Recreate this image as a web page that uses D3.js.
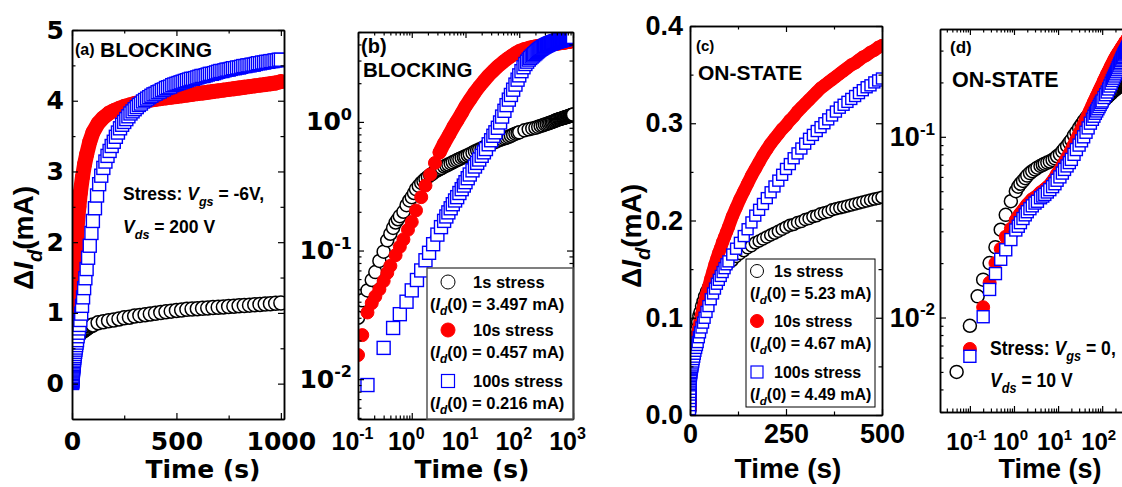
<!DOCTYPE html>
<html>
<head>
<meta charset="utf-8">
<script src="https://cdn.jsdelivr.net/npm/d3@7"></script>
<style>
  body { margin: 0; background: #fff; }
  svg { display: block; font-weight: bold; }
</style>
</head>
<body>
<svg id="fig"></svg>
<script>
// blocking stress: panels (a) linear and (b) log plot the same curves
var timeBlackAB = [0.1, 0.12, 0.15, 0.18, 0.21, 0.25, 0.3, 0.35, 0.4, 0.45,
  0.5, 0.55, 0.6, 0.7, 0.8, 0.9, 1.0, 1.1, 1.2, 1.35,
  1.5, 1.65, 1.8, 2.0, 2.2, 2.4, 2.7, 3.0, 3.3, 3.6,
  4.0, 4.4, 4.8, 5.3, 5.8, 6.4, 7, 7.7, 8.5, 9.3,
  10, 11, 12, 13.5, 15, 16.5, 18, 20, 22, 24,
  27, 30, 33, 36, 40, 44, 48, 53, 58, 64,
  70, 77, 85, 93, 100,
  125, 150, 175, 200, 225, 250, 275, 300, 325, 350, 375, 400, 425, 450, 475, 500,
  525, 550, 575, 600, 625, 650, 675, 700, 725, 750, 775, 800, 825, 850, 875, 900, 925, 950, 975, 1000];
var black1sAB = [0.030, 0.041, 0.049, 0.059, 0.068, 0.083, 0.098, 0.12, 0.135, 0.150,
  0.165, 0.175, 0.185, 0.20, 0.225, 0.245, 0.26, 0.28, 0.30, 0.318,
  0.335, 0.348, 0.36, 0.373, 0.385, 0.395, 0.41, 0.42, 0.43, 0.438,
  0.45, 0.458, 0.466, 0.475, 0.485, 0.495, 0.505, 0.514, 0.525, 0.533,
  0.54, 0.55, 0.56, 0.575, 0.59, 0.60, 0.61, 0.622, 0.635, 0.645,
  0.66, 0.675, 0.69, 0.70, 0.715, 0.725, 0.735, 0.745, 0.755, 0.765,
  0.78, 0.795, 0.81, 0.82, 0.83,
  0.86, 0.875, 0.89, 0.90, 0.915, 0.93, 0.94, 0.955, 0.965, 0.975, 0.985, 0.995, 1.005, 1.015, 1.025, 1.035,
  1.04, 1.05, 1.055, 1.06, 1.065, 1.07, 1.075, 1.08, 1.085, 1.09, 1.095, 1.10, 1.105, 1.11, 1.115, 1.12, 1.125, 1.13, 1.135, 1.14];

var timeRedAB = [0.1, 0.12, 0.15, 0.18, 0.21, 0.25, 0.3, 0.35, 0.4, 0.5,
  0.6, 0.7, 0.85, 1, 1.2, 1.5, 1.8, 2.2, 2.7, 3.3,
  4, 5, 6, 7, 8.5, 10, 12, 15, 18, 22,
  27, 33, 40, 50, 60, 70, 85, 100,
  125, 150, 175, 200, 225, 250, 275, 300, 325, 350, 375, 400, 425, 450, 475, 500,
  525, 550, 575, 600, 625, 650, 675, 700, 725, 750, 775, 800, 825, 850, 875, 900, 925, 950, 975, 1000];
var red10sAB = [0.0154, 0.022, 0.033, 0.039, 0.044, 0.050, 0.058, 0.067, 0.076, 0.092,
  0.107, 0.122, 0.145, 0.167, 0.205, 0.26, 0.32, 0.39, 0.48, 0.58,
  0.68, 0.80, 0.92, 1.02, 1.17, 1.32, 1.48, 1.70, 1.88, 2.08,
  2.30, 2.50, 2.70, 2.92, 3.10, 3.24, 3.42, 3.55,
  3.68, 3.76, 3.82, 3.86, 3.89, 3.92, 3.94, 3.96, 3.98, 3.99, 4.01, 4.02, 4.03, 4.04, 4.05, 4.06,
  4.07, 4.08, 4.09, 4.10, 4.11, 4.12, 4.13, 4.14, 4.15, 4.16, 4.17, 4.18, 4.19, 4.20, 4.21, 4.22, 4.23, 4.24, 4.25, 4.27];

var timeBlueAB = [0.15, 0.3, 0.45, 0.6, 0.8, 1.0, 1.25, 1.5, 1.8, 2.1,
  2.5, 3.0, 3.5, 4.0, 4.4, 4.8, 5.3, 5.8, 6.4, 7,
  7.7, 8.5, 9.3, 10, 11, 12, 13.5, 15, 16.5, 18,
  20, 22, 24, 27, 30, 33, 36, 40, 44, 48,
  53, 58, 64, 70, 77, 85, 93, 100,
  110, 120, 130, 140, 150, 160, 170, 180, 190, 200,
  210, 220, 230, 240, 250, 260, 270, 280, 290, 300,
  310, 320, 330, 340, 350, 360, 370, 380, 390, 400,
  410, 420, 430, 440, 450, 460, 470, 480, 490, 500,
  510, 520, 530, 540, 550, 560, 570, 580, 590, 600,
  610, 620, 630, 640, 650, 660, 670, 680, 690, 700,
  710, 720, 730, 740, 750, 760, 770, 780, 790, 800,
  810, 820, 830, 840, 850, 860, 870, 880, 890, 900,
  910, 920, 930, 940, 950, 960, 970, 980, 990, 1000];
var blue100sAB = [0.009, 0.0175, 0.025, 0.032, 0.040, 0.049, 0.059, 0.070, 0.084, 0.096,
  0.112, 0.133, 0.152, 0.170, 0.184, 0.198, 0.213, 0.229, 0.245, 0.26,
  0.28, 0.30, 0.32, 0.34, 0.365, 0.39, 0.42, 0.45, 0.48, 0.51,
  0.545, 0.58, 0.615, 0.67, 0.72, 0.78, 0.83, 0.90, 0.99, 1.10,
  1.22, 1.35, 1.49, 1.62, 1.78, 1.95, 2.13, 2.30,
  2.48, 2.66, 2.82, 2.94, 3.05, 3.14, 3.22, 3.29, 3.36, 3.42,
  3.49, 3.55, 3.61, 3.66, 3.70, 3.74, 3.78, 3.82, 3.85, 3.88,
  3.91, 3.94, 3.96, 3.99, 4.01, 4.03, 4.05, 4.07, 4.09, 4.10,
  4.12, 4.13, 4.15, 4.16, 4.18, 4.19, 4.20, 4.22, 4.23, 4.24,
  4.25, 4.26, 4.27, 4.28, 4.29, 4.30, 4.31, 4.31, 4.32, 4.33,
  4.34, 4.35, 4.35, 4.36, 4.37, 4.38, 4.38, 4.39, 4.40, 4.41,
  4.42, 4.42, 4.43, 4.44, 4.44, 4.45, 4.46, 4.46, 4.47, 4.47,
  4.48, 4.49, 4.49, 4.50, 4.50, 4.51, 4.51, 4.52, 4.53, 4.53,
  4.54, 4.54, 4.55, 4.55, 4.56, 4.56, 4.57, 4.57, 4.58, 4.58];

// on-state stress: panels (c) linear and (d) log
var timeCD = [0.05, 0.1, 0.15, 0.2, 0.28, 0.38, 0.5, 0.65, 0.85, 1.1,
  1.25, 1.4, 1.6, 1.8, 2.0, 2.3, 2.6, 3.0, 3.4, 4.0,
  4.5, 5.0, 5.7, 6.5, 7.5, 8.5, 9.5, 11, 12.5, 14,
  16, 18, 20, 23, 26, 30, 34, 38, 43, 48,
  54, 60, 65, 70, 75, 80, 85, 90, 95, 100,
  110, 120, 130, 140, 150, 160, 170, 180, 190, 200,
  210, 220, 230, 240, 250, 260, 270, 280, 290, 300,
  310, 320, 330, 340, 350, 360, 370, 380, 390, 400,
  410, 420, 430, 440, 450, 460, 470, 480, 490, 500];
var black1sCD = [0.0050, 0.0090, 0.0131, 0.0162, 0.020, 0.0245, 0.0306, 0.037, 0.044, 0.050,
  0.053, 0.055, 0.057, 0.059, 0.061, 0.063, 0.0645, 0.066, 0.0675, 0.069,
  0.070, 0.071, 0.072, 0.073, 0.0745, 0.076, 0.078, 0.080, 0.083, 0.086,
  0.089, 0.093, 0.096, 0.102, 0.106, 0.112, 0.117, 0.122, 0.127, 0.131,
  0.135, 0.139, 0.1415, 0.144, 0.146, 0.148, 0.150, 0.152, 0.154, 0.156,
  0.159, 0.163, 0.166, 0.169, 0.172, 0.174, 0.177, 0.179, 0.181, 0.183,
  0.185, 0.187, 0.189, 0.191, 0.193, 0.195, 0.196, 0.198, 0.199, 0.201,
  0.202, 0.204, 0.205, 0.207, 0.208, 0.209, 0.211, 0.212, 0.213, 0.214,
  0.215, 0.216, 0.217, 0.218, 0.219, 0.220, 0.221, 0.222, 0.223, 0.224];
var red10sCD = [null, 0.0067, null, 0.0114, 0.0156, 0.020, 0.024, 0.028, 0.031, 0.0345,
  0.036, 0.0375, 0.039, 0.0405, 0.042, 0.0435, 0.045, 0.046, 0.047, 0.049,
  0.050, 0.051, 0.0525, 0.054, 0.0565, 0.059, 0.062, 0.065, 0.0685, 0.072,
  0.076, 0.080, 0.084, 0.090, 0.096, 0.103, 0.110, 0.116, 0.124, 0.131,
  0.140, 0.148, 0.155, 0.161, 0.167, 0.172, 0.178, 0.183, 0.188, 0.193,
  0.204, 0.213, 0.222, 0.230, 0.238, 0.246, 0.253, 0.260, 0.267, 0.273,
  0.279, 0.284, 0.289, 0.294, 0.298, 0.303, 0.307, 0.312, 0.316, 0.320,
  0.324, 0.328, 0.332, 0.336, 0.339, 0.342, 0.345, 0.348, 0.351, 0.354,
  0.357, 0.360, 0.362, 0.365, 0.368, 0.370, 0.373, 0.375, 0.378, 0.380];
var blue100sCD = [null, 0.0061, null, 0.0101, 0.0143, 0.0175, 0.021, 0.0237, 0.027, 0.0305,
  0.032, 0.0335, 0.0353, 0.037, 0.0385, 0.040, 0.0415, 0.043, 0.044, 0.046,
  0.047, 0.048, 0.0495, 0.051, 0.053, 0.055, 0.0575, 0.060, 0.063, 0.066,
  0.069, 0.072, 0.075, 0.080, 0.085, 0.090, 0.095, 0.100, 0.106, 0.112,
  0.119, 0.125, 0.130, 0.135, 0.139, 0.143, 0.147, 0.151, 0.155, 0.158,
  0.165, 0.171, 0.177, 0.184, 0.191, 0.198, 0.205, 0.211, 0.217, 0.223,
  0.229, 0.235, 0.241, 0.247, 0.253, 0.258, 0.264, 0.269, 0.274, 0.279,
  0.284, 0.288, 0.292, 0.296, 0.300, 0.304, 0.308, 0.312, 0.316, 0.319,
  0.322, 0.325, 0.328, 0.331, 0.334, 0.337, 0.339, 0.342, 0.344, 0.346];

var legendNames = ["1s stress", "10s stress", "100s stress"];
var id0AB = ["3.497", "0.457", "0.216"];
var id0CD = ["5.23", "4.67", "4.49"];

var aXTicks = [0, 500, 1000], aXMinor = [250, 750];
var aYTicks = [0, 1, 2, 3, 4, 5], aYMinor = [0.5, 1.5, 2.5, 3.5, 4.5];
var bXTicks = [0.1, 1, 10, 100, 1000];
var bYTicks = [0.01, 0.1, 1];
var cXTicks = [0, 250, 500], cXMinor = [125, 375];
var cYTicks = [0, 0.1, 0.2, 0.3, 0.4], cYMinor = [0.05, 0.15, 0.25, 0.35];
var dXTicks = [0.1, 1, 10, 100];
var dYTicks = [0.01, 0.1];

var svg = d3.select("#fig").attr("width", 1122).attr("height", 487);
var LIB = '"Liberation Sans", Arial, sans-serif';
var DJV = '"DejaVu Sans", sans-serif';

// text made of parts: {t, it (italic), sub (subscript)}
function rich(parent, x, y, size, parts, family, anchor) {
  var t = parent.append("text")
    .attr("x", x).attr("y", y)
    .attr("font-size", size).attr("font-family", family || LIB)
    .attr("text-anchor", anchor || "start");
  var shift = 0;
  parts.forEach(function (p) {
    var s = t.append("tspan").text(p.t);
    var want = p.sub ? size * 0.32 : 0;
    if (want !== shift) { s.attr("dy", want - shift); shift = want; }
    if (p.sub) s.attr("font-size", size * 0.72);
    if (p.it) s.style("font-style", "italic");
  });
  return t;
}

function minorsOf(scale, majors) {
  return scale.ticks().filter(function (v) {
    return !majors.some(function (m) { return Math.abs(m - v) / m < 1e-6; });
  });
}

function styleAxis(a, fam, size) {
  a.select(".domain").attr("stroke", "#000").attr("stroke-width", 1.5);
  a.selectAll(".tick line").attr("stroke", "#000").attr("stroke-width", 1.2);
  a.selectAll(".tick text").attr("font-family", fam).attr("font-size", size).attr("fill", "#000");
}

function powLabels(a, size, supSize, shiftX) {
  a.selectAll(".tick text").each(function (d) {
    var t = d3.select(this);
    t.text(null);
    if (shiftX) t.attr("x", shiftX);
    t.append("tspan").text("10");
    t.append("tspan").attr("dy", -size * 0.42).attr("font-size", supSize)
      .text(Math.round(Math.log10(d)));
  });
}

function drawPanel(p) {
  var x = p.x, y = p.y;
  var xr = x.range(), yr = y.range();
  var g = svg.append("g");
  g.append("clipPath").attr("id", "clip-" + p.name)
    .append("rect").attr("x", xr[0]).attr("y", yr[1])
    .attr("width", xr[1] - xr[0]).attr("height", yr[0] - yr[1]);
  var plot = g.append("g").attr("clip-path", "url(#clip-" + p.name + ")");
  var line = d3.line()
    .x(function (d) { return x(d.t); })
    .y(function (d) { return y(d.v); });

  p.series.forEach(function (s) {
    var pts = s.times.map(function (t, i) { return { t: t, v: s.values[i] }; })
      .filter(function (d) { return d.v !== null && (!p.logY || d.v > 0); });
    // measured points are so dense that the markers merge into a band
    var dense = pts.filter(function (d) { return d.t >= p.bandFrom; });
    var isSq = s.shape === "square";
    plot.append("path").datum(dense).attr("d", line)
      .attr("fill", "none").attr("stroke", s.color)
      .attr("stroke-width", isSq ? p.sq - 1 : (s.fill === "#fff" ? 2 * p.r - 1 : 2 * p.r + 1))
      .attr("stroke-linejoin", "round").attr("stroke-linecap", isSq ? "square" : "round");
    if (isSq) {
      plot.selectAll(null).data(pts).enter().append("rect")
        .attr("x", function (d) { return x(d.t) - p.sq / 2; })
        .attr("y", function (d) { return y(d.v) - p.sq / 2; })
        .attr("width", p.sq).attr("height", p.sq)
        .attr("fill", "#fff").attr("stroke", s.color).attr("stroke-width", s.sw);
    } else {
      plot.selectAll(null).data(pts).enter().append("circle")
        .attr("cx", function (d) { return x(d.t); })
        .attr("cy", function (d) { return y(d.v); })
        .attr("r", p.r)
        .attr("fill", s.fill).attr("stroke", s.color).attr("stroke-width", s.sw);
    }
  });

  var xMinor = p.xMinor || minorsOf(x, p.xTicks);
  var yMinor = p.yMinor || minorsOf(y, p.yTicks);

  // minor ticks, all four sides, pointing inwards
  [[d3.axisBottom(x).tickValues(xMinor), "translate(0," + yr[0] + ")"],
   [d3.axisTop(x).tickValues(xMinor), "translate(0," + yr[1] + ")"],
   [d3.axisLeft(y).tickValues(yMinor), "translate(" + xr[0] + ",0)"],
   [d3.axisRight(y).tickValues(yMinor), "translate(" + xr[1] + ",0)"]].forEach(function (ax) {
    var a = g.append("g").attr("transform", ax[1])
      .call(ax[0].tickSizeInner(-3.5).tickSizeOuter(0).tickFormat(""));
    styleAxis(a, LIB, 10);
  });

  // major ticks
  var top = g.append("g").attr("transform", "translate(0," + yr[1] + ")")
    .call(d3.axisTop(x).tickValues(p.xTicks).tickSizeInner(-6).tickSizeOuter(0).tickFormat(""));
  styleAxis(top, LIB, 10);
  var right = g.append("g").attr("transform", "translate(" + xr[1] + ",0)")
    .call(d3.axisRight(y).tickValues(p.yTicks).tickSizeInner(-6).tickSizeOuter(0).tickFormat(""));
  styleAxis(right, LIB, 10);

  var bottom = g.append("g").attr("transform", "translate(0," + yr[0] + ")")
    .call(d3.axisBottom(x).tickValues(p.xTicks).tickSizeInner(-6).tickSizeOuter(0)
      .tickPadding(p.xPad).tickFormat(p.xFmt || d3.format("")));
  styleAxis(bottom, p.xFam, p.xSize);
  if (p.logX) powLabels(bottom, p.xSize, p.xSup, p.xShift);

  var left = g.append("g").attr("transform", "translate(" + xr[0] + ",0)")
    .call(d3.axisLeft(y).tickValues(p.yTicks).tickSizeInner(-6).tickSizeOuter(0)
      .tickPadding(p.yPad).tickFormat(p.yFmt || d3.format("")));
  styleAxis(left, p.yFam, p.ySize);
  if (p.logY) powLabels(left, p.ySize, p.ySup, 0);

  rich(svg, p.timeX, 478, p.timeSize, [{ t: "Time (s)" }], p.timeFam, "middle");
  return g;
}

var blackS = { shape: "circle", fill: "#fff", color: "#000", sw: 1.5 };
var redS = { shape: "circle", fill: "#ff0000", color: "#ff0000", sw: 1 };
var blueS = { shape: "square", color: "#0000ff", sw: 1.4 };

var seriesAB = [
  Object.assign({ times: timeBlackAB, values: black1sAB }, blackS),
  Object.assign({ times: timeRedAB, values: red10sAB }, redS),
  Object.assign({ times: timeBlueAB, values: blue100sAB }, blueS)];
var seriesCD = [
  Object.assign({ times: timeCD, values: black1sCD }, blackS),
  Object.assign({ times: timeCD, values: red10sCD }, redS),
  Object.assign({ times: timeCD, values: blue100sCD }, blueS)];

// (a)
drawPanel({
  name: "a", series: seriesAB, bandFrom: 0,
  x: d3.scaleLinear().domain([0, 1015]).range([72, 284]),
  y: d3.scaleLinear().domain([-0.5, 5]).range([419, 30]),
  r: 7, sq: 13,
  xTicks: aXTicks, xMinor: aXMinor, yTicks: aYTicks, yMinor: aYMinor,
  xPad: 13, xFam: DJV, xSize: 25,
  yPad: 8, yFam: DJV, ySize: 25,
  timeX: 203, timeFam: DJV, timeSize: 25
});

// (b)
drawPanel({
  name: "b", series: seriesAB, logX: true, logY: true, bandFrom: 3,
  x: d3.scaleLog().domain([0.1, 1000]).range([358, 573]),
  y: d3.scaleLog().domain([0.0049, 5.0]).range([419, 32]),
  r: 6.5, sq: 13,
  xTicks: bXTicks, yTicks: bYTicks,
  xPad: 13, xFam: LIB, xSize: 25, xSup: 16, xShift: -6,
  yPad: 6, yFam: DJV, ySize: 25, ySup: 16,
  timeX: 472, timeFam: DJV, timeSize: 25
});

// (c)
drawPanel({
  name: "c", series: seriesCD, bandFrom: 0,
  x: d3.scaleLinear().domain([0, 500]).range([690, 882]),
  y: d3.scaleLinear().domain([0, 0.4]).range([415, 26]),
  r: 6, sq: 11,
  xTicks: cXTicks, xMinor: cXMinor, yTicks: cYTicks, yMinor: cYMinor,
  xPad: 9, xFam: LIB, xSize: 27,
  yPad: 7, yFam: LIB, ySize: 27, yFmt: d3.format(".1f"),
  timeX: 788, timeFam: LIB, timeSize: 28
});

// (d)
drawPanel({
  name: "d", series: seriesCD, logX: true, logY: true, bandFrom: 1.1,
  x: d3.scaleLog().domain([0.021, 500]).range([940, 1133]),
  y: d3.scaleLog().domain([0.003, 0.395]).range([412, 29]),
  r: 6.5, sq: 12,
  xTicks: dXTicks, yTicks: dYTicks,
  xPad: 21, xFam: LIB, xSize: 24, xSup: 15, xShift: -4,
  yPad: 5, yFam: LIB, ySize: 27, ySup: 17,
  timeX: 1050, timeFam: LIB, timeSize: 27
});

// y titles
rich(svg, 0, 0, 28, [{ t: "\u0394" }, { t: "I", it: true }, { t: "d", it: true, sub: true }, { t: "(mA)" }], LIB, "middle")
  .attr("transform", "translate(33,238) rotate(-90)");
rich(svg, 0, 0, 28, [{ t: "\u0394" }, { t: "I", it: true }, { t: "d", it: true, sub: true }, { t: "(mA)" }], LIB, "middle")
  .attr("transform", "translate(641,236) rotate(-90)");

// panel captions
rich(svg, 75, 55, 16, [{ t: "(a)" }]);
rich(svg, 100, 57, 21, [{ t: "BLOCKING" }]);
rich(svg, 123, 200, 17.5, [{ t: "Stress: " }, { t: "V", it: true }, { t: "gs", it: true, sub: true }, { t: " = -6V," }]);
rich(svg, 123, 233, 17.5, [{ t: "V", it: true }, { t: "ds", it: true, sub: true }, { t: " = 200 V" }]);

rich(svg, 361, 53, 20, [{ t: "(b)" }]);
rich(svg, 363, 77, 20.5, [{ t: "BLOCKING" }]);

rich(svg, 696, 51, 15, [{ t: "(c)" }]);
rich(svg, 698, 80, 21, [{ t: "ON-STATE" }]);

rich(svg, 950, 53, 17, [{ t: "(d)" }]);
rich(svg, 952, 87, 21.5, [{ t: "ON-STATE" }]);
rich(svg, 0, 0, 20, [{ t: "Stress: " }, { t: "V", it: true }, { t: "gs", it: true, sub: true }, { t: " = 0," }])
  .attr("transform", "translate(990,355) scale(0.88,1)");
rich(svg, 0, 0, 20, [{ t: "V", it: true }, { t: "ds", it: true, sub: true }, { t: " = 10 V" }])
  .attr("transform", "translate(990,387) scale(0.88,1)");

// legends
function legend(box, mx, rowsY, nameX, idX, ids, r, sq, size, boxStroke, boxW) {
  svg.append("rect").attr("x", box[0]).attr("y", box[1]).attr("width", box[2]).attr("height", box[3])
    .attr("fill", "#fff").attr("stroke", boxStroke).attr("stroke-width", boxW);
  var styles = [blackS, redS, blueS];
  legendNames.forEach(function (name, i) {
    var s = styles[i], cy = rowsY[i];
    if (s.shape === "square") {
      svg.append("rect").attr("x", mx - sq / 2).attr("y", cy - sq / 2).attr("width", sq).attr("height", sq)
        .attr("fill", "#fff").attr("stroke", s.color).attr("stroke-width", 1.2);
    } else {
      svg.append("circle").attr("cx", mx).attr("cy", cy).attr("r", r)
        .attr("fill", s.fill).attr("stroke", s.color).attr("stroke-width", 1);
    }
    rich(svg, nameX, cy + 6, size, [{ t: name }]);
    rich(svg, idX, cy + 28, size, [{ t: "(" }, { t: "I", it: true }, { t: "d", it: true, sub: true },
      { t: "(0) = " + ids[i] + " mA)" }]);
  });
}
legend([427, 268, 146, 151], 448, [282, 330, 381], 473, 430, id0AB, 7, 13, 16.5, "#555", 1.5);
legend([746, 259, 129, 148], 757, [271, 321, 372], 774, 750, id0CD, 6.5, 12, 16, "#000", 1);
</script>
</body>
</html>
